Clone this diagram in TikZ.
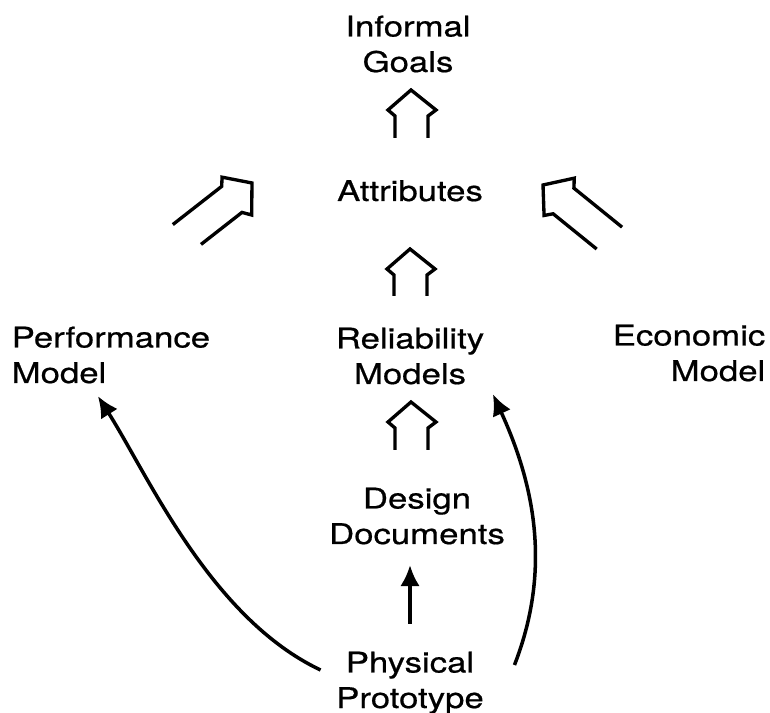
\documentclass[tikz,border=0pt]{standalone}
\usepackage{fontspec}
\setmainfont[FakeStretch=1.22,FakeBold=0.6]{TeX Gyre Heros}
\usetikzlibrary{arrows.meta}
\begin{document}
\begin{tikzpicture}[x=0.01cm,y=-0.01cm,
    term/.style={inner sep=0pt,font=\fontsize{8.1}{10.1}\selectfont},
    hollow line/.style={line width=0.95pt,line join=miter},
    solid arrow/.style={line width=1pt,-{Latex[length=6pt,width=5.6pt]}},
    pics/hollow/.style 2 args={code={\draw[hollow line] (-16,#1) -- (-16,26) -- (-23,20) -- (0,0) -- (25,20) -- (17,26) -- (17,#2);}}]
  \useasboundingbox (0,0) rectangle (770,713);
  \node [term,align=center,anchor=base] (goals) at (408,72) {Informal\\Goals};
  \node [term,anchor=base] (attr) at (410,201) {Attributes};
  \node [term,align=left,anchor=base west] (perf) at (11,383) {Performance\\Model};
  \node [term,align=center,anchor=base] (rel) at (410,384) {Reliability\\Models};
  \node [term,align=right,anchor=base east] (econ) at (766,381) {Economic\\Model};
  \node [term,align=center,anchor=base] (design) at (417,544) {Design\\Documents};
  \node [term,align=center,anchor=base] (proto) at (410,708) {Physical\\Prototype};
  \pic at (411,90) {hollow={48}{48}};
  \pic at (410,249) {hollow={47}{47}};
  \pic at (411,402) {hollow={48}{48}};
  \pic [rotate=-52] at (252,183) {hollow={88}{78}};
  \pic [rotate=51] at (543,185) {hollow={82}{88}};
  \draw [solid arrow,shorten <=0.27cm,shorten >=0.2cm] (proto.north) -- (proto.north |- design.south);
  \draw [solid arrow] ([shift={(-15,-38)}]proto.base west) .. controls +(-110,-52) and +(50,79) .. ([shift={(-13,12)}]perf.south);
  \draw [solid arrow] ([shift={(30,-43)}]proto.base east) .. controls +(35,-90) and +(45,98) .. ([shift={(8,9)}]rel.south east);
\end{tikzpicture}
\end{document}
